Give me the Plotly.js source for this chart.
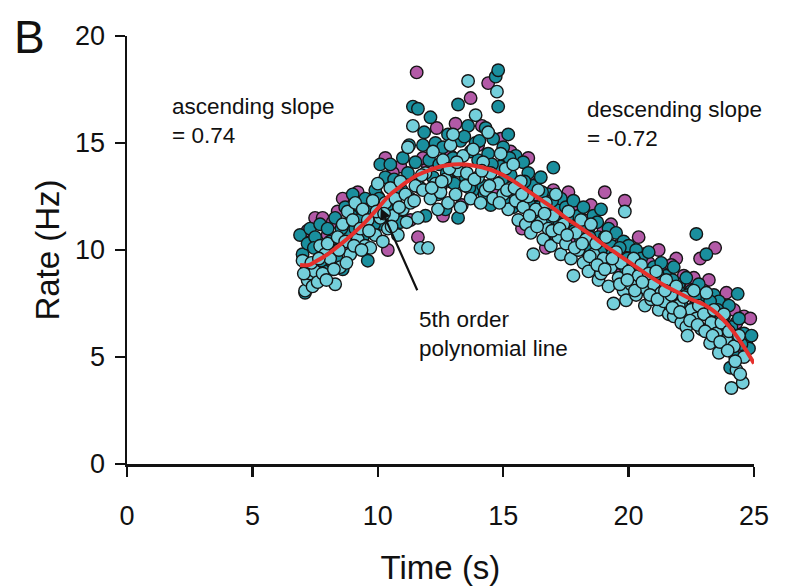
<!DOCTYPE html>
<html>
<head>
<meta charset="utf-8">
<script src="https://cdn.plot.ly/plotly-3.0.1.min.js"></script>
<style>
html,body{margin:0;padding:0;background:#fff;}
#chart{width:794px;height:586px;}
</style>
</head>
<body>
<div id="chart"></div>
<script>
// ---- data ----
const xTicks = [0, 5, 10, 15, 20, 25];
const yTicks = [0, 5, 10, 15, 20];

const magX = [7.2,7.5,7.8,8.0,8.2,8.6,8.9,9.2,9.5,9.8,10.0,10.3,10.4,10.9,11.3,11.55,11.6,12.0,12.35,12.6,12.9,13.1,13.35,13.7,13.9,14.15,14.4,14.6,14.9,15.2,15.5,15.75,16.0,16.3,16.7,17.0,17.3,17.6,17.9,18.2,18.5,18.8,19.05,19.3,19.6,19.85,20.1,20.4,20.8,21.2,21.5,21.9,22.2,22.5,22.85,23.2,23.45,23.6,23.9,24.2,24.45,24.6,24.85,
  7.35,8.4,9.1,10.6,11.8,12.5,13.25,14.0,14.7,15.3,16.1,16.5,17.1,17.8,18.35,19.0,19.5,20.6,21.0,21.7,22.6,23.0,23.8,24.3];
const magY = [10.9,11.5,11.5,10.7,11.3,12.4,10.0,12.7,10.8,11.0,12.5,14.3,10.0,13.9,11.4,18.3,10.6,13.9,15.7,11.6,14.4,15.9,12.1,17.1,13.0,15.8,17.8,13.9,15.2,13.4,12.2,11.0,14.3,12.6,10.1,12.8,11.6,12.7,10.5,11.4,12.1,10.4,12.7,11.2,10.2,12.3,9.9,10.6,9.4,10.0,9.0,9.6,8.8,8.3,9.6,8.6,10.1,7.6,8.0,7.2,5.3,6.9,6.8,
  10.4,11.8,11.6,13.6,14.3,12.9,13.9,14.9,12.8,14.6,13.1,11.5,10.7,11.8,9.9,10.9,9.2,9.8,8.6,9.3,8.7,8.1,7.4,6.6];

const tealX = [6.9,7.0,7.1,7.2,7.3,7.4,7.5,7.6,7.7,7.8,7.9,8.0,8.1,8.2,8.3,8.4,8.6,8.7,8.8,9.0,9.1,9.3,9.4,9.5,9.6,9.7,9.9,10.1,10.2,10.3,10.5,10.6,10.8,10.9,11.0,11.2,11.3,11.4,11.5,11.6,11.7,11.8,11.9,12.1,12.2,12.3,12.4,12.6,12.7,12.8,12.9,13.0,13.2,13.2,13.3,13.5,13.6,13.7,13.8,13.9,14.0,14.2,14.3,14.4,14.5,14.6,14.7,14.8,14.8,14.9,15.0,15.1,15.2,15.3,15.4,15.5,15.6,15.8,15.9,16.0,16.1,16.2,16.4,16.5,16.6,16.8,16.9,17.0,17.1,17.3,17.4,17.5,17.7,17.8,18.0,18.1,18.2,18.4,18.5,18.6,18.8,18.9,19.0,19.2,19.3,19.5,19.6,19.8,19.9,20.0,20.2,20.3,20.5,20.6,20.8,21.0,21.1,21.3,21.5,21.6,21.8,22.0,22.1,22.3,22.5,22.6,22.7,22.8,23.0,23.1,23.2,23.4,23.5,23.6,23.8,24.0,24.05,24.1,24.25,24.35,24.4,24.6,24.7,24.8,
  7.15,7.45,7.75,8.05,8.35,8.55,8.95,9.25,9.55,9.85,10.05,10.35,10.65,10.95,11.25,11.55,11.85,12.05,12.45,12.75,13.05,13.45,13.65,14.05,14.25,14.55,14.95,15.25,15.45,15.65,15.85,16.05,16.25,16.55,16.75,16.95,17.25,17.55,17.85,18.15,18.45,18.75,19.05,19.35,19.65,19.95,20.25,20.55,20.85,21.15,21.45,21.75,22.05,22.35,22.65,22.95,23.25,23.55,23.85,24.15,24.5,24.9];
const tealY = [10.7,9.8,8.0,10.3,11.0,9.2,10.6,8.7,11.2,10.0,9.0,11.0,10.4,9.4,11.5,10.0,9.1,12.0,10.9,12.6,11.0,12.0,10.6,12.4,9.5,11.8,12.8,14.0,11.2,13.4,14.0,12.1,13.0,11.3,14.3,13.6,12.4,16.7,14.1,16.6,12.9,14.9,11.6,16.2,13.4,15.0,12.6,14.8,11.9,15.4,13.2,14.3,16.8,11.5,15.1,13.4,15.8,14.6,12.8,15.0,14.2,13.0,15.7,14.5,12.1,15.2,18.1,18.4,16.7,13.9,14.8,12.3,15.4,13.5,12.0,14.4,13.0,14.1,12.4,13.6,11.7,13.0,12.0,13.4,11.4,12.6,11.2,13.85,11.9,12.4,10.9,12.0,11.1,12.3,11.6,10.4,12.0,11.0,10.0,11.6,10.6,11.9,9.9,11.0,10.2,10.8,9.4,10.4,9.1,10.2,8.9,10.0,9.6,8.5,9.9,9.2,8.2,9.4,8.8,7.8,9.2,8.4,7.5,8.7,8.1,7.3,10.75,8.4,7.8,9.8,7.0,7.9,6.6,7.6,6.9,7.4,4.5,6.4,5.0,7.95,6.8,6.1,5.8,5.4,
  9.3,10.1,9.5,10.1,9.7,11.0,11.6,11.4,11.9,11.2,12.4,12.0,13.3,12.8,14.9,13.2,15.5,14.2,14.0,13.6,13.1,15.3,12.9,15.1,12.6,14.0,13.2,14.3,12.6,12.2,13.2,12.1,11.6,12.7,11.8,12.3,11.3,11.5,10.9,11.2,10.6,11.3,10.6,9.8,10.1,9.6,9.5,8.9,8.7,8.9,8.4,8.6,8.0,7.9,7.8,7.3,7.6,7.2,6.4,6.0,5.6,6.0];

const cyanX = [7.0,7.1,7.2,7.3,7.4,7.5,7.6,7.7,7.8,7.9,8.0,8.1,8.3,8.4,8.5,8.6,8.7,8.8,8.9,9.0,9.1,9.2,9.3,9.4,9.5,9.6,9.7,9.8,9.9,10.0,10.1,10.2,10.3,10.4,10.5,10.6,10.7,10.8,10.9,11.0,11.1,11.2,11.3,11.4,11.5,11.6,11.7,11.8,11.9,12.0,12.1,12.2,12.3,12.4,12.5,12.6,12.7,12.8,12.9,13.0,13.1,13.2,13.3,13.4,13.5,13.6,13.7,13.8,13.9,14.0,14.1,14.2,14.3,14.4,14.5,14.6,14.75,14.8,14.9,15.0,15.1,15.2,15.3,15.4,15.5,15.6,15.7,15.8,15.9,16.0,16.1,16.2,16.3,16.4,16.5,16.6,16.7,16.8,16.9,17.0,17.1,17.2,17.3,17.4,17.5,17.6,17.7,17.8,17.9,18.0,18.1,18.2,18.3,18.4,18.5,18.6,18.7,18.8,18.9,19.0,19.1,19.2,19.3,19.4,19.5,19.6,19.7,19.8,19.9,19.85,20.0,20.1,20.2,20.3,20.4,20.5,20.65,20.7,20.8,20.9,21.0,21.1,21.2,21.3,21.4,21.5,21.6,21.7,21.8,21.9,22.0,22.1,22.2,22.3,22.35,22.5,22.6,22.7,22.8,22.9,23.0,23.1,23.25,23.3,23.4,23.5,23.6,23.7,23.8,23.9,24.0,24.1,24.2,24.3,24.4,24.55,24.6,
  7.05,7.35,7.65,7.95,8.25,8.45,8.75,9.05,9.35,9.65,9.95,10.25,10.55,10.85,11.15,11.45,11.75,12.15,12.55,12.85,13.15,13.55,13.85,14.15,14.45,14.85,15.15,15.45,15.75,16.05,16.35,16.65,16.95,17.25,17.55,17.85,18.15,18.45,18.75,19.05,19.35,19.65,19.95,20.25,20.55,20.85,21.15,21.45,21.75,22.05,22.45,22.75,23.05,23.35,23.65,23.95,24.25,24.45];
const cyanY = [9.5,8.1,8.6,8.9,8.3,9.0,8.5,10.2,8.9,9.8,10.3,9.6,8.4,10.6,9.2,11.2,10.4,11.8,9.8,11.4,12.2,10.5,11.0,11.9,10.2,11.4,10.1,12.3,10.7,13.1,11.5,10.4,12.2,11.0,12.9,11.6,12.4,10.7,13.2,11.9,12.6,14.8,12.2,15.8,13.0,11.5,10.1,12.8,13.6,10.1,12.4,14.6,13.1,11.9,12.7,14.2,13.3,12.2,14.9,15.4,12.6,13.7,12.0,14.4,13.0,17.9,12.4,14.7,16.3,13.4,12.2,14.1,12.8,15.5,13.6,12.4,17.4,13.1,14.5,12.6,13.8,11.9,12.9,14.0,12.3,11.4,13.2,12.0,11.2,12.5,10.8,9.8,11.9,12.8,11.3,10.5,12.2,11.0,10.2,11.6,12.6,10.6,9.8,11.2,10.3,11.8,9.6,8.8,10.8,10.0,11.4,9.4,10.5,9.0,11.2,9.8,10.3,8.6,8.9,9.6,10.6,8.3,9.2,7.5,9.9,8.7,9.4,8.1,7.65,11.8,9.0,8.4,9.6,7.9,8.8,9.3,7.4,8.2,8.9,7.7,8.4,9.0,7.2,8.0,7.6,8.6,7.0,7.9,6.9,8.3,7.4,6.6,7.8,6.4,6.0,7.2,8.1,6.8,7.4,6.3,7.0,8.0,5.65,6.6,7.2,6.1,5.2,6.6,7.0,5.8,6.2,3.55,5.5,4.4,6.0,3.8,5.0,
  8.9,9.4,9.6,8.6,9.1,10.0,9.4,10.2,10.0,10.9,11.8,11.7,11.1,12.0,11.3,12.3,13.5,12.9,13.2,13.8,14.1,13.6,13.3,13.7,13.0,12.2,12.8,12.9,12.6,11.6,11.1,11.7,10.9,11.0,10.7,10.1,10.3,9.7,9.3,9.1,9.6,8.4,8.6,8.1,8.5,7.9,7.7,8.1,7.3,7.1,6.7,6.5,6.2,6.0,5.7,5.3,4.8,4.2];

const fitX = [6.9,7.25,7.5,8,8.5,9,9.5,10,10.5,11,11.5,12,12.5,13,13.5,14,14.5,15,15.5,16,16.5,17,17.5,18,18.5,19,19.5,20,20.5,21,21.5,22,22.5,23,23.5,24,24.5,25];
const fitY = [9.3,9.3,9.45,9.8,10.25,10.75,11.3,11.95,12.6,13.05,13.45,13.7,13.9,14.0,14.0,13.9,13.75,13.5,13.15,12.75,12.35,11.95,11.5,11.1,10.7,10.25,9.85,9.45,9.05,8.65,8.3,8.0,7.7,7.45,7.05,6.45,5.65,4.7];

// ---- styling ----
const FONT = 'Liberation Sans, Arial, Helvetica, sans-serif';
const outline = {color: '#151515', width: 1.4};
function pts(x, y, color, name) {
  return {x: x, y: y, type: 'scatter', mode: 'markers', name: name,
    marker: {size: 12.5, color: color, line: outline}, cliponaxis: false, hoverinfo: 'x+y'};
}
const traces = [
  pts(magX, magY, '#B35AA7', 'magenta'),
  pts(tealX, tealY, '#1A8F9E', 'teal'),
  pts(cyanX, cyanY, '#74CFDB', 'cyan'),
  {x: fitX, y: fitY, type: 'scatter', mode: 'lines', name: 'fit',
   line: {color: '#E5302C', width: 4, shape: 'spline', smoothing: 1}, cliponaxis: false}
];

const layout = {
  width: 794, height: 586,
  margin: {l: 127, r: 40, t: 36, b: 122},
  paper_bgcolor: '#fff', plot_bgcolor: '#fff',
  showlegend: false,
  font: {family: FONT, color: '#111'},
  xaxis: {
    range: [0, 25], tickvals: xTicks, ticktext: xTicks.map(String),
    showgrid: false, zeroline: false, showline: true, linecolor: '#111', linewidth: 2.5,
    ticks: 'outside', ticklen: 10, tickwidth: 2.5, tickcolor: '#111',
    tickfont: {size: 27, family: FONT, color: '#111'}, ticklabelstandoff: 16,
    title: {text: 'Time (s)', font: {size: 33, family: FONT, color: '#111'}, standoff: 26},
    automargin: false
  },
  yaxis: {
    range: [0, 20], tickvals: yTicks, ticktext: yTicks.map(String),
    showgrid: false, zeroline: false, showline: true, linecolor: '#111', linewidth: 2.5,
    ticks: 'outside', ticklen: 10, tickwidth: 2.5, tickcolor: '#111',
    tickfont: {size: 27, family: FONT, color: '#111'}, ticklabelstandoff: 4,
    title: {text: 'Rate (Hz)', font: {size: 33, family: FONT, color: '#111'}, standoff: 6},
    automargin: false
  },
  annotations: [
    {xref: 'paper', yref: 'paper', x: -0.155, y: 0.998, xanchor: 'center', yanchor: 'middle',
     text: 'B', showarrow: false, font: {size: 46, family: FONT, color: '#111'}},
    {xref: 'x', yref: 'y', x: 1.72, y: 17.4, xanchor: 'left', yanchor: 'top', align: 'left',
     text: 'ascending slope<br>= 0.74', showarrow: false, font: {size: 22.5, family: FONT, color: '#111'}},
    {xref: 'x', yref: 'y', x: 18.25, y: 17.25, xanchor: 'left', yanchor: 'top', align: 'left',
     text: 'descending slope<br>= -0.72', showarrow: false, font: {size: 22.5, family: FONT, color: '#111'}},
    {xref: 'x', yref: 'y', x: 11.58, y: 7.45, xanchor: 'left', yanchor: 'top', align: 'left',
     text: '5th order<br>polynomial line', showarrow: false, font: {size: 22.5, family: FONT, color: '#111'}},
    {xref: 'x', yref: 'y', axref: 'x', ayref: 'y', x: 10.12, y: 11.95, ax: 11.6, ay: 8.05,
     text: '', showarrow: true, arrowhead: 2, arrowsize: 1, arrowwidth: 2.2, arrowcolor: '#111'}
  ]
};

Plotly.newPlot('chart', traces, layout, {displayModeBar: false, staticPlot: true});
</script>
</body>
</html>
